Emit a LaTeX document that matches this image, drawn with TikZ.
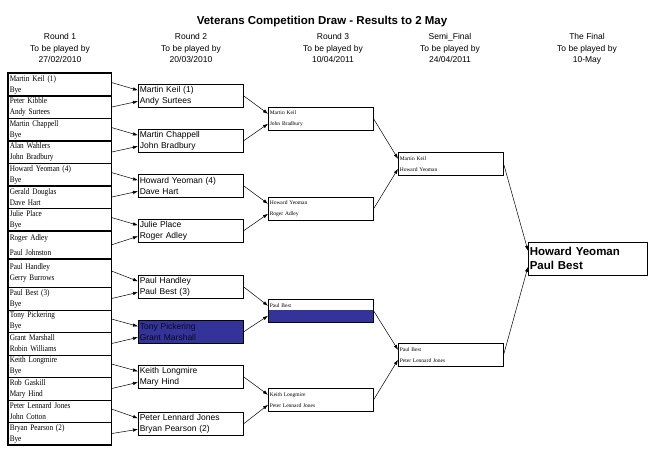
\documentclass[tikz,border=0pt]{standalone}
\usepackage{fontspec}
\setmainfont{Liberation Serif}
\setsansfont{Liberation Sans}
\usetikzlibrary{arrows.meta,calc}
\definecolor{hl}{HTML}{333399}
\tikzset{
 bx/.style={draw,line width=0.6pt,anchor=north west,inner xsep=1.5pt,inner ysep=0.5pt,align=left},
 r1/.style={bx,text width=100pt,font=\fontsize{8.5}{11}\selectfont\addfontfeature{FakeStretch=0.85}},
 r2/.style={bx,text width=102pt,minimum height=23pt,font=\sffamily\fontsize{8.5}{11}\selectfont},
 r3/.style={bx,text width=102pt,minimum height=23pt,font=\fontsize{5.5}{11}\selectfont},
 hd/.style={font=\sffamily\fontsize{8.5}{11.5}\selectfont,align=center,anchor=north},
 ar/.style={-{Latex[length=5pt,width=3.5pt]},line width=0.5pt},
 shad/.style={line width=1.6pt}
}
\newcommand{\shadow}[1]{\draw[shad] (#1.north east)--(#1.south east)--(#1.south west);}
\begin{document}
\begin{tikzpicture}[x=1pt,y=-1pt]
\useasboundingbox (0,0) rectangle (648,460);
\node[font=\sffamily\bfseries\fontsize{11.5}{13}\selectfont] (title) at (322,22) {Veterans Competition Draw - Results to 2 May};
\node[hd] (h1) at (60,30) {Round 1\\To be played by\\27/02/2010};
\node[hd] (h2) at (191,30) {Round 2\\To be played by\\20/03/2010};
\node[hd] (h3) at (333,30) {Round 3\\To be played by\\10/04/2011};
\node[hd] (h4) at (450,30) {Semi\_Final\\To be played by\\24/04/2011};
\node[hd] (h5) at (587,30) {The Final\\To be played by\\10-May};
% round 1
\foreach \n/\y/\h/\t in {1/73/22.5/{Martin Keil (1)\\Bye},2/95.5/22.5/{Peter Kibble\\Andy Surtees},3/118/22.5/{Martin Chappell\\Bye},4/140.5/22.5/{Alan Wahlers\\John Bradbury},5/163/22.5/{Howard Yeoman (4)\\Bye},6/185.5/22.5/{Gerald Douglas\\Dave Hart},7/208/22.5/{Julie Place\\Bye},8/230.5/28/{Roger Adley\\[4pt]Paul Johnston},9/258.5/28.5/{Paul Handley\\Gerry Burrows},10/287/22.5/{Paul Best (3)\\Bye},11/309.5/22.5/{Tony Pickering\\Bye},12/332/22.5/{Grant Marshall\\Robin Williams},13/354.5/22.5/{Keith Longmire\\Bye},14/377/22.5/{Rob Gaskill\\Mary Hind},15/399.5/22.5/{Peter Lennard Jones\\John Cotton},16/422/22.5/{Bryan Pearson (2)\\Bye}}
 {\node[r1,minimum height=\h pt] (a\n) at (8,\y) {\t};}
\foreach \n in {1,3,5,7,9,11,13,15}{\draw[line width=1.3pt] (a\n.south west)--(a\n.south east);}
\draw[line width=1.3pt] (a1.north west) rectangle (a16.south east);
\draw[line width=1.3pt] (a8.south west)--(a8.south east);
% round 2
\node[r2] (b1) at (138,84) {Martin Keil (1)\\Andy Surtees};
\node[r2] (b2) at (138,129) {Martin Chappell\\John Bradbury};
\node[r2] (b3) at (138,174) {Howard Yeoman (4)\\Dave Hart};
\node[r2] (b4) at (138,219) {Julie Place\\Roger Adley};
\node[r2] (b5) at (138,275) {Paul Handley\\Paul Best (3)};
\node[r2,fill=hl,text=black!80!hl] (b6) at (138,320) {Tony Pickering\\Grant Marshall};
\node[r2] (b7) at (138,365) {Keith Longmire\\Mary Hind};
\node[r2] (b8) at (138,412) {Peter Lennard Jones\\Bryan Pearson (2)};
\foreach \n in {1,3,4,7,8}{\shadow{b\n}}
% round 3
\node[r3] (c1) at (268,107) {Martin Keil\\John Bradbury};
\node[r3] (c2) at (268,197) {Howard Yeoman\\Roger Adley};
\fill[hl] (268,310) rectangle (373,322);
\node[r3] (c3) at (268,299) {Paul Best\\\phantom{X}};
\node[r3] (c4) at (268,388) {Keith Longmire\\Peter Lennard Jones};
\foreach \n in {1,2,3,4}{\shadow{c\n}}
% semi
\node[r3] (d1) at (398,152) {Martin Keil\\Howard Yeoman};
\node[r3] (d2) at (398,343) {Paul Best\\Peter Lennard Jones};
\shadow{d1}\shadow{d2}
% final
\node[bx,text width=116pt,minimum height=33pt,font=\sffamily\bfseries\fontsize{11.5}{14}\selectfont] (f) at (528,242) {Howard Yeoman\\Paul Best};
\shadow{f}
% arrows round1 -> round2
\foreach \i/\j/\k in {1/2/1,3/4/2,5/6/3,7/8/4,9/10/5,11/12/6,13/14/7,15/16/8}{
 \draw[ar] ($(a\i.east)+(0,-2)$) -- ($(b\k.west)+(0,-5.5)$);
 \draw[ar] ($(a\j.east)+(0,0)$) -- ($(b\k.west)+(0,5.5)$);
}
\draw[ar] (b1.east) -- ($(c1.west)+(0,-5)$);
\draw[ar] (b2.east) -- ($(c1.west)+(0,5)$);
\draw[ar] (b3.east) -- ($(c2.west)+(0,-5)$);
\draw[ar] (b4.east) -- ($(c2.west)+(0,5)$);
\draw[ar] (b5.east) -- ($(c3.west)+(0,-5)$);
\draw[ar] (b6.east) -- ($(c3.west)+(0,5)$);
\draw[ar] (b7.east) -- ($(c4.west)+(0,-5)$);
\draw[ar] (b8.east) -- ($(c4.west)+(0,5)$);
\draw[ar] (c1.east) -- ($(d1.west)+(0,-5)$);
\draw[ar] (c2.east) -- ($(d1.west)+(0,5)$);
\draw[ar] (c3.east) -- ($(d2.west)+(0,-5)$);
\draw[ar] (c4.east) -- ($(d2.west)+(0,5)$);
\draw[ar] (d1.east) -- ($(f.west)+(0,-8)$);
\draw[ar] (d2.east) -- ($(f.west)+(0,8)$);
\end{tikzpicture}
\end{document}
